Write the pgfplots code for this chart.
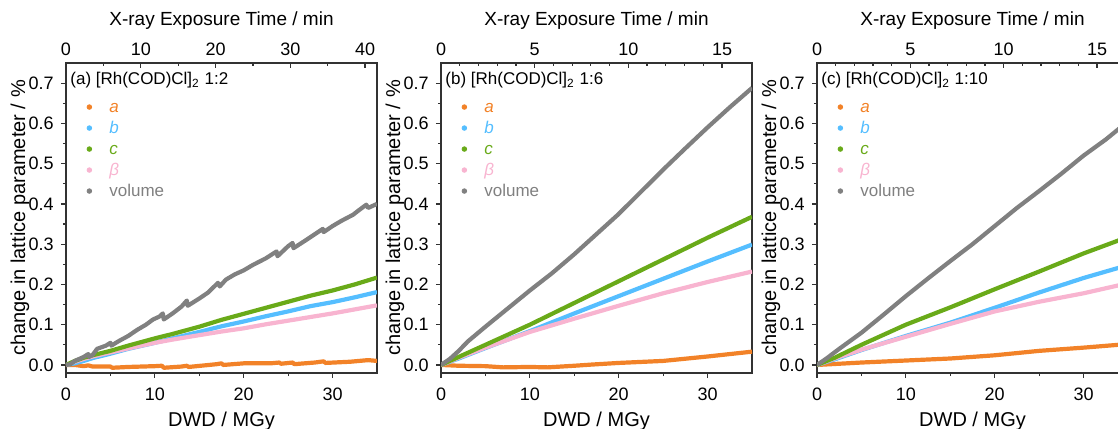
\documentclass[border=0pt]{standalone}
\usepackage{pgfplots}
\pgfplotsset{compat=1.18}
\usepackage{fontspec}
\setmainfont{Liberation Sans}
\definecolor{cA}{RGB}{242,130,40}
\definecolor{cB}{RGB}{85,190,255}
\definecolor{cC}{RGB}{105,170,25}
\definecolor{cBeta}{RGB}{248,180,208}
\definecolor{cV}{RGB}{128,128,128}
\definecolor{axc}{RGB}{50,50,50}
\tikzset{ttl/.style={anchor=north west, inner sep=0pt, font=\fontsize{8.5}{10}\selectfont}}
\pgfplotsset{
  base/.style={scale only axis, width=155.5pt, height=155pt, anchor=south west,
    axis line style={axc, line width=0.7pt},
    every tick/.style={axc, line width=0.6pt},
    major tick length=2.6pt, minor tick length=1.6pt,
    /pgf/number format/assume math mode=true,
    tick label style={font=\fontsize{9}{10}\selectfont},
    label style={font=\fontsize{9.5}{11}\selectfont}},
  main/.style={base, xmin=0, xmax=35, ymin=-0.02, ymax=0.75,
    xtick={0,10,20,30}, minor xtick={5,15,25},
    ytick={0,0.1,0.2,0.3,0.4,0.5,0.6,0.7},
    minor ytick={0.05,0.15,0.25,0.35,0.45,0.55,0.65},
    xtick pos=bottom, ytick pos=left, tick align=outside,
    yticklabel style={/pgf/number format/.cd, fixed, fixed zerofill, precision=1},
    xticklabel style={yshift=-1.5pt},
    xlabel={DWD / MGy}, ylabel={change in lattice parameter / \%},
    every axis y label/.style={at={(axis description cs:-0.148,0.5)}, rotate=90, anchor=center,
      font=\fontsize{10}{11}\selectfont},
    every axis x label/.style={at={(axis description cs:0.5,0)}, anchor=center, yshift=-24pt},
    legend style={draw=none, fill=none, at={(rel axis cs:0.016,0.885)}, anchor=north west,
      font=\fontsize{8.5}{10}\selectfont, row sep=2.5pt, inner sep=0pt,
      nodes={inner xsep=2pt, inner ysep=0pt, text height=6.5pt, text depth=1.5pt}},
    legend cell align=left},
  top/.style={base, axis x line*=top, axis y line=none, ymin=0, ymax=1,
    tick align=inside, xmin=0, xlabel={X-ray Exposure Time / min}},
  ser/.style={line width=2.1pt, no marks, line join=round, forget plot},
  dot/.style={legend image code/.code={\fill (9pt,0pt) circle (1.15pt); \path[draw=none, fill=none] (0pt,0pt) -- (17pt,0pt);}},
}
\newcommand{\mylegend}{%
  \addlegendimage{dot, cA}\addlegendentry{\textcolor{cA}{\textit{a}}}
  \addlegendimage{dot, cB}\addlegendentry{\textcolor{cB}{\textit{b}}}
  \addlegendimage{dot, cC}\addlegendentry{\textcolor{cC}{\textit{c}}}
  \addlegendimage{dot, cBeta}\addlegendentry{\textcolor{cBeta}{\textit{β}}}
  \addlegendimage{dot, cV}\addlegendentry{\textcolor{cV}{volume}}}
\begin{document}
\begin{tikzpicture}
% ---------------- panel (a)
\begin{axis}[top, at={(33pt,27.5pt)}, xmax=41.6, xtick={0,10,20,30,40}, minor xtick={5,15,25,35}]
\end{axis}
\begin{axis}[main, at={(33pt,27.5pt)}]
\mylegend
\addplot[ser, cA] coordinates {(0,0) (1,0.0) (2,-0.003) (2.5,-0.001) (3,-0.004) (5,-0.004) (5.2,-0.007) (7,-0.005) (10,-0.003) (10.8,-0.002) (11,-0.007) (13,-0.004) (13.6,-0.002) (13.8,-0.005) (17,0.002) (17.5,0.004) (17.7,0.0) (20,0.004) (23,0.004) (24,0.006) (24.2,0.003) (25.5,0.006) (25.7,0.002) (28,0.006) (29,0.009) (29.2,0.005) (32,0.008) (34,0.012) (35,0.01)};
\addplot[ser, cB] coordinates {(0,0) (1,0.004) (2,0.01) (3,0.017) (5,0.028) (7,0.04) (10,0.055) (12,0.066) (15,0.082) (17.5,0.096) (20,0.108) (22.5,0.121) (25,0.133) (27.5,0.146) (30,0.156) (32.5,0.168) (35,0.181)};
\addplot[ser, cBeta] coordinates {(0,0) (1,0.008) (2,0.015) (3,0.021) (5,0.031) (7,0.041) (10,0.055) (12,0.063) (15,0.074) (17.5,0.083) (20,0.091) (22.5,0.101) (25,0.11) (27.5,0.119) (30,0.128) (32.5,0.138) (35,0.148)};
\addplot[ser, cC] coordinates {(0,0) (1,0.01) (2,0.018) (3,0.024) (5,0.035) (7,0.048) (10,0.066) (12,0.077) (15,0.095) (17.5,0.112) (20,0.127) (22.5,0.142) (25,0.157) (27.5,0.172) (30,0.185) (32.5,0.2) (35,0.217)};
\addplot[ser, cV] coordinates {(0,0) (0.5,0.002) (1,0.01) (1.5,0.015) (2,0.02) (2.5,0.027) (2.6,0.02) (3,0.025) (3.5,0.04) (4.5,0.048) (5,0.055) (5.1,0.048) (6,0.06) (7,0.072) (8,0.087) (9,0.1) (9.8,0.113) (10.5,0.12) (10.9,0.128) (11,0.113) (12,0.128) (13,0.145) (13.6,0.16) (13.7,0.147) (15,0.165) (16,0.18) (17.1,0.204) (17.3,0.195) (18,0.212) (19,0.225) (20,0.235) (21,0.248) (22.5,0.265) (23.7,0.282) (23.8,0.27) (25,0.295) (25.5,0.303) (25.6,0.29) (27,0.31) (28.9,0.338) (29,0.33) (30,0.345) (31,0.358) (32.3,0.373) (33,0.385) (33.8,0.398) (34,0.39) (35,0.40)};
\node[ttl] at (rel axis cs:0,1) [xshift=2pt, yshift=-4.5pt] {(a) [Rh(COD)Cl]\textsubscript{2} 1:2};
\end{axis}
% ---------------- panel (b)
\begin{axis}[top, at={(220.5pt,27.5pt)}, xmax=16.6, xtick={0,5,10,15}, minor x tick num=4]
\end{axis}
\begin{axis}[main, at={(220.5pt,27.5pt)}]
\mylegend
\addplot[ser, cA] coordinates {(0,0) (2,-0.002) (5,-0.003) (7,-0.006) (10,-0.005) (12,-0.006) (15,-0.002) (17,0.001) (20,0.005) (25,0.01) (30,0.021) (35,0.033)};
\addplot[ser, cB] coordinates {(0,0) (2,0.016) (5,0.042) (10,0.084) (15,0.128) (20,0.171) (25,0.214) (30,0.257) (35,0.299)};
\addplot[ser, cBeta] coordinates {(0,0) (2,0.018) (5,0.043) (10,0.082) (15,0.115) (20,0.147) (25,0.178) (30,0.206) (35,0.232)};
\addplot[ser, cC] coordinates {(0,0) (2,0.02) (5,0.05) (10,0.1) (15,0.154) (20,0.208) (25,0.262) (30,0.316) (35,0.368)};
\addplot[ser, cV] coordinates {(0,0) (1,0.015) (2,0.035) (3,0.058) (5,0.095) (7.5,0.14) (10,0.185) (12.5,0.228) (15,0.275) (17.5,0.325) (20,0.375) (22.5,0.43) (25,0.485) (27.5,0.538) (30,0.59) (32.5,0.64) (35,0.688)};
\node[ttl] at (rel axis cs:0,1) [xshift=2pt, yshift=-4.5pt] {(b) [Rh(COD)Cl]\textsubscript{2} 1:6};
\end{axis}
% ---------------- panel (c)
\begin{axis}[top, at={(408.5pt,27.5pt)}, xmax=16.66, xtick={0,5,10,15}, minor x tick num=4]
\end{axis}
\begin{axis}[main, at={(408.5pt,27.5pt)}]
\mylegend
\addplot[ser, cA] coordinates {(0,0) (5,0.006) (10,0.011) (15,0.016) (20,0.024) (25,0.035) (30,0.043) (35,0.052)};
\addplot[ser, cB] coordinates {(0,0) (2,0.014) (5,0.037) (10,0.072) (15,0.105) (20,0.142) (25,0.18) (30,0.216) (35,0.248)};
\addplot[ser, cBeta] coordinates {(0,0) (2,0.016) (5,0.038) (10,0.07) (15,0.102) (20,0.133) (25,0.157) (30,0.178) (35,0.203)};
\addplot[ser, cC] coordinates {(0,0) (2,0.018) (5,0.05) (10,0.1) (15,0.143) (20,0.188) (25,0.232) (30,0.277) (35,0.318)};
\addplot[ser, cV] coordinates {(0,0) (1,0.015) (2.5,0.04) (5,0.08) (7.5,0.125) (10,0.171) (12.5,0.215) (15,0.258) (17.5,0.3) (20,0.345) (22.5,0.39) (25,0.432) (27.5,0.475) (30,0.52) (32.5,0.56) (35,0.605)};
\node[ttl] at (rel axis cs:0,1) [xshift=2pt, yshift=-4.5pt] {(c) [Rh(COD)Cl]\textsubscript{2} 1:10};
\end{axis}
\pgfresetboundingbox
\useasboundingbox (0,0) rectangle (559pt,214pt);
\end{tikzpicture}
\end{document}
